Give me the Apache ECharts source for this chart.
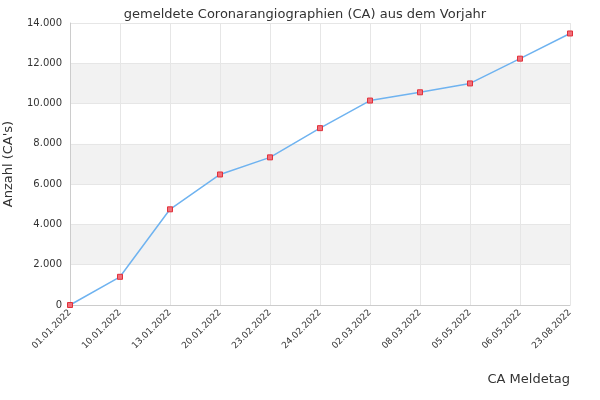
<!DOCTYPE html>
<html><head><meta charset="utf-8">
<script src="https://cdn.jsdelivr.net/npm/echarts@6/dist/echarts.min.js"></script>
<style>html,body{margin:0;padding:0;background:#fff}#c{width:600px;height:400px}</style>
</head><body><div id="c"></div>
<script>
const categories=['01.01.2022','10.01.2022','13.01.2022','20.01.2022','23.02.2022','24.02.2022','02.03.2022','08.03.2022','05.05.2022','06.05.2022','23.08.2022'];
const values=[0,1400,4750,6480,7330,8780,10150,10560,11000,12230,13480];
const chart=echarts.init(document.getElementById('c'));
const ff='DejaVu Sans';
chart.setOption({
 animation:false,
 title:{text:'gemeldete Coronarangiographien (CA) aus dem Vorjahr',left:300,textAlign:'center',top:3,textStyle:{fontFamily:ff,fontSize:13,fontWeight:'normal',color:'#333'}},
 grid:{left:70,right:30,top:23,bottom:95,containLabel:false,outerBoundsMode:'none'},
 xAxis:{type:'category',data:categories,boundaryGap:false,name:'CA Meldetag',nameLocation:'end',nameGap:0,
  nameTextStyle:{fontFamily:ff,fontSize:13,color:'#333',align:'right',verticalAlign:'top',padding:[68,0,0,0]},
  axisLine:{lineStyle:{color:'#ccc'}},axisTick:{show:false},
  axisLabel:{rotate:45,fontFamily:ff,fontSize:9,color:'#333',interval:0,margin:6},
  splitLine:{show:true,lineStyle:{color:'#e6e6e6'}}},
 yAxis:{type:'value',min:0,max:14000,interval:2000,name:"Anzahl (CA's)",nameLocation:'middle',nameGap:55,
  nameTextStyle:{fontFamily:ff,fontSize:13,color:'#333'},
  axisLine:{show:true,lineStyle:{color:'#ccc'}},
  axisLabel:{fontFamily:ff,fontSize:10,color:'#333',formatter:v=>v.toLocaleString('de-DE')},
  splitLine:{lineStyle:{color:'#e6e6e6'}},
  splitArea:{show:true,areaStyle:{color:['#fff','#f2f2f2']}}},
 series:[{type:'line',data:values,symbol:'rect',symbolSize:5,
  lineStyle:{color:'#6fb3f0',width:1.5},
  itemStyle:{color:'#f0707a',borderColor:'#e0303a',borderWidth:1}}]
});
</script></body></html>
